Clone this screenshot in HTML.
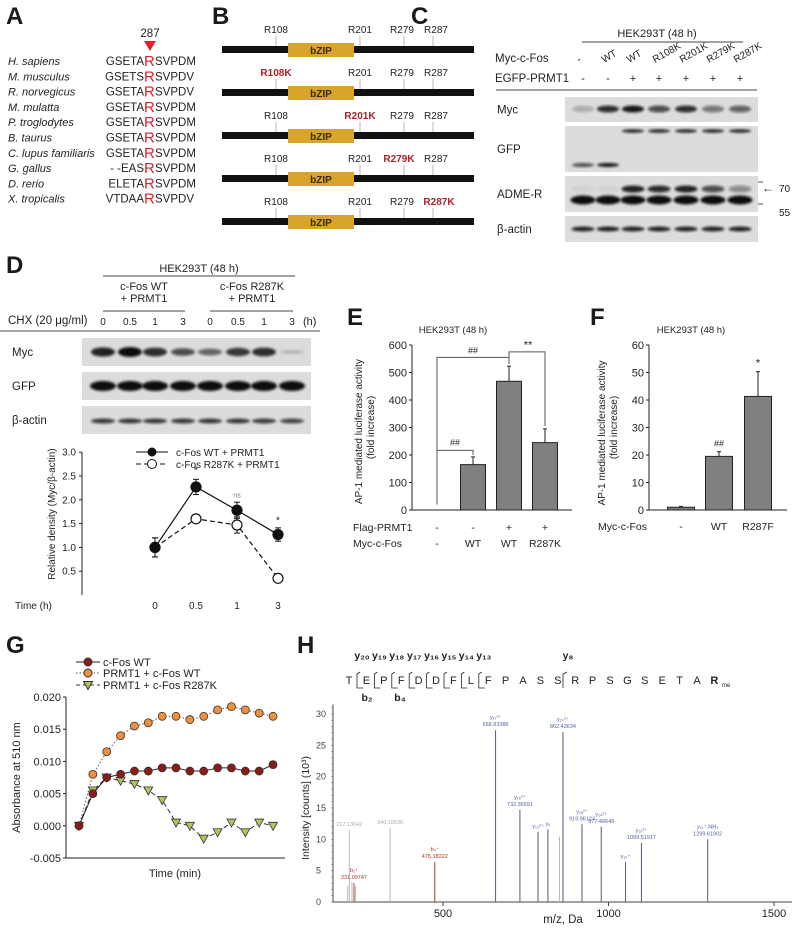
<!DOCTYPE html>
<html><head><meta charset="utf-8"><style>
body{margin:0;background:#fff}
svg{display:block;font-family:"Liberation Sans",sans-serif}
</style></head><body>
<svg id="fig" width="797" height="935" viewBox="0 0 797 935" xmlns="http://www.w3.org/2000/svg">
<defs><filter id="bl" x="-20%" y="-100%" width="140%" height="300%"><feGaussianBlur stdDeviation="1.3"/></filter></defs>
<g font-weight="bold" font-size="24" fill="#1a1a1a">
<text x="6" y="24">A</text>
<text x="212" y="24">B</text>
<text x="411" y="24">C</text>
<text x="6" y="273">D</text>
<text x="347" y="325">E</text>
<text x="590" y="325">F</text>
<text x="6" y="653">G</text>
<text x="297" y="653">H</text>
</g>
<g id="A"></g>
<g id="B"></g>
<g id="C"></g>
<g id="D"></g>
<g id="E"></g>
<g id="F"></g>
<g id="G"></g>
<g id="H"></g>
</svg>
<script>
const NS='http://www.w3.org/2000/svg';
function mk(p,tag,at,txt){const e=document.createElementNS(NS,tag);for(const k in at)e.setAttribute(k,at[k]);if(txt!==undefined)e.textContent=txt;p.appendChild(e);return e;}
function T(p,x,y,s,fs,extra){const at=Object.assign({x:x,y:y,'font-size':fs||11,fill:'#222'},extra||{});const e=mk(p,'text',at,s);return e;}

// ---------- DATA ----------
const species=['H. sapiens','M. musculus','R. norvegicus','M. mulatta','P. troglodytes','B. taurus','C. lupus familiaris','G. gallus','D. rerio','X. tropicalis'];
const seqPre=['GSETA','GSETS','GSETA','GSETA','GSETA','GSETA','GSETA','- -EAS','ELETA','VTDAA'];
const seqPost=['SVPDM','SVPDV','SVPDV','SVPDM','SVPDM','SVPDM','SVPDM','SVPDM','SVPDM','SVPDV'];
const mutRows=[null,'R108K','R201K','R279K','R287K'];
const siteNames=['R108','R201','R279','R287'];
const cLanesFos=['-','WT','WT','R108K','R201K','R279K','R287K'];
const cLanesPrmt=['-','-','+','+','+','+','+'];
const cMyc=[0.2,0.85,0.95,0.7,0.85,0.5,0.6];
const cGfpHigh=[0,0,0.9,0.9,0.9,0.9,0.9];
const cGfpLow=[0.7,0.95,0,0,0,0,0];
const cAdmeUp=[0.05,0.05,0.9,0.85,0.9,0.7,0.4];
const cAdmeLow=[1,1,1,1,1,1,1];
const cActin=[0.9,0.9,0.9,0.9,0.9,0.9,0.9];
const dTimes=['0','0.5','1','3'];
const dMyc=[0.9,1,0.85,0.7,0.6,0.8,0.85,0.2];
const dGfp=[1,1,1,1,1,1,1,1];
const dActin=[0.8,0.8,0.8,0.8,0.8,0.8,0.8,0.75];
const dWT=[1.0,2.27,1.78,1.27];
const dWTerr=[0.2,0.16,0.17,0.14];
const dMut=[1.0,1.6,1.47,0.35];
const dMuterr=[0.2,0.07,0.17,0.05];
const eCats=['-','WT','WT','R287K'];
const ePrmt=['-','-','+','+'];
const eVals=[0,165,468,245];
const eErr=[0,28,55,50];
const eTicks=[0,100,200,300,400,500,600];
const fCats=['-','WT','R287F'];
const fVals=[1,19.5,41.3];
const fErr=[0.3,1.7,9];
const fTicks=[0,10,20,30,40,50,60];
const gWT=[0,0.005,0.0075,0.008,0.0085,0.0085,0.009,0.009,0.0085,0.0085,0.009,0.009,0.0085,0.0085,0.0095];
const gPR=[0,0.008,0.0115,0.014,0.0155,0.016,0.017,0.017,0.0165,0.017,0.018,0.0185,0.018,0.0175,0.017];
const gMut=[0,0.0055,0.0075,0.007,0.0065,0.0055,0.004,0.0005,0,-0.002,-0.001,0.0005,-0.001,0.0005,0];
const gTicks=[-0.005,0,0.005,0.010,0.015,0.020];
const hMz=[212,217.13,225,231.10,236,340.16,475.18,658.83,732.37,787,817,852,862.44,919.96,977.97,1051.5,1099.52,1299.62];
const hInt=[2.5,11.5,3.2,3,2.5,11.8,6.4,27.4,14.7,11.2,11.6,10.4,27.1,12.4,12,6.4,9.4,10];
const hKind=['g','g','g','r','g','g','r','b','b','b','b','g','b','b','b','b','b','b'];
const hLab=['','217.13042','','b₂⁺ 231.09747','','340.15536','b₄⁺ 475.18222','y₁₇²⁺ 658.83386','y₁₆²⁺ 732.36591','y₁₃²⁺','y₆','','y₂₀²⁺ 862.43634','y₁₈²⁺ 919.96124','y₁₄²⁺ 977.46649','y₁₀⁺','y₁₉²⁺ 1099.51917','y₁₂⁺-NH₃ 1299.61902'];
const hTicks=[500,1000,1500];
const hYTicks=[0,5,10,15,20,25,30];
const pep=['T','E','P','F','D','D','F','L','F','P','A','S','S','R','P','S','G','S','E','T','A','R'];

// ---------- A ----------
(function(){const g=document.getElementById('A');
 T(g,150,37,'287',11.5,{'text-anchor':'middle'});
 const a=mk(g,'polygon',{points:'144,41 156,41 150,51',fill:'#e0202a'});
 species.forEach((s,i)=>{const y=65+i*15.3;
  const t=T(g,8,y,s,11,{'font-style':'italic'});
  const q=T(g,144,y,seqPre[i],11.5,{'text-anchor':'end'});
  const r=T(g,144,y+1,'R',15,{fill:'#e0202a'});
  const w=T(g,155,y,seqPost[i],11.5);
 });})();

// ---------- B ----------
(function(){const g=document.getElementById('B');const sx=[276,360,404,433];const lx=[276,360,402,436];
 mutRows.forEach((m,i)=>{const y=49+i*43;
  const bar=mk(g,'rect',{x:222,y:y-3,width:252,height:7,fill:'#111'});
  const bz=mk(g,'rect',{x:288,y:y-6,width:66,height:14,fill:'#d9a42c'});
  T(g,321,y+5,'bZIP',10,{'text-anchor':'middle','font-weight':'bold',fill:'#3a2a00'});
  siteNames.forEach((s,j)=>{mk(g,'line',{x1:sx[j],x2:sx[j],y1:y-13,y2:y-3,stroke:'#999','stroke-width':0.7});
   const mut=(m&&m.startsWith(s));let cx=lx[j];if(mut&&j==2)cx=399;if(mut&&j==3)cx=439;
   const t=T(g,cx,y-16,mut?m:s,10,{'text-anchor':'middle',fill:mut?'#b0202a':'#222','font-weight':mut?'bold':'normal'});
   });
 });})();

function band(g,cx,cy,w,h,a){if(a<=0)return;const e=mk(g,'ellipse',{cx:cx,cy:cy,rx:w/2,ry:h/2,fill:'#111','fill-opacity':a,filter:'url(#bl)'});}
function blot(g,x,y,w,h){const r=mk(g,'rect',{x:x,y:y,width:w,height:h,fill:'#dcdcdc'});}

// ---------- C ----------
(function(){const g=document.getElementById('C');const lx=[583,608,633,659,686,713,740];
 T(g,657,37,'HEK293T (48 h)',11,{'text-anchor':'middle'});mk(g,'line',{x1:582,x2:743,y1:42,y2:42,stroke:'#444'});
 T(g,495,62,'Myc-c-Fos',11.5);T(g,495,82,'EGFP-PRMT1',11.5);
 lx.forEach((x,i)=>{const t=T(g,x-4,63,cLanesFos[i],10,{transform:`rotate(-30 ${x-4} 63)`});T(g,x,82,cLanesPrmt[i],11,{'text-anchor':'middle'});});
 mk(g,'line',{x1:496,x2:757,y1:90,y2:90,stroke:'#444'});
 const rows=[['Myc',97,25],['GFP',126,46],['ADME-R',176,36],['β-actin',216,26]];
 rows.forEach(r=>{blot(g,565,r[1],193,r[2]);T(g,497,r[1]+r[2]/2+4,r[0],11.5);});
 lx.forEach((x,i)=>{band(g,x,109,22,7,cMyc[i]);band(g,x,131,22,3.5,cGfpHigh[i]);band(g,x,165,22,4,cGfpLow[i]);band(g,x,189,23,7,cAdmeUp[i]);band(g,x,200,25,9,cAdmeLow[i]);band(g,x,229,23,5,cActin[i]);});
 mk(g,'line',{x1:758,x2:763,y1:182,y2:182,stroke:'#555'});mk(g,'line',{x1:758,x2:763,y1:204,y2:204,stroke:'#555'});
 T(g,762,192,'←',12);T(g,779,192,'70',10);T(g,779,216,'55',10);
})();

// ---------- D ----------
(function(){const g=document.getElementById('D');const lx=[103,130,155,183,210,238,264,292];
 T(g,199,272,'HEK293T (48 h)',11,{'text-anchor':'middle'});mk(g,'line',{x1:103,x2:295,y1:276,y2:276,stroke:'#444'});
 T(g,144,290,'c-Fos WT',11,{'text-anchor':'middle'});T(g,144,302,'+ PRMT1',11,{'text-anchor':'middle'});
 T(g,252,290,'c-Fos R287K',11,{'text-anchor':'middle'});T(g,252,302,'+ PRMT1',11,{'text-anchor':'middle'});
 mk(g,'line',{x1:103,x2:185,y1:311,y2:311,stroke:'#444'});mk(g,'line',{x1:210,x2:293,y1:311,y2:311,stroke:'#444'});
 T(g,8,324,'CHX (20 μg/ml)',11.5);lx.forEach((x,i)=>T(g,x,325,dTimes[i%4],10,{'text-anchor':'middle'}));T(g,303,325,'(h)',11);
 mk(g,'line',{x1:0,x2:320,y1:331,y2:331,stroke:'#444'});
 [['Myc',338],['GFP',372],['β-actin',406]].forEach(r=>{blot(g,82,r[1],229,28);T(g,12,r[1]+18,r[0],11.5);});
 lx.forEach((x,i)=>{band(g,x,352,24,8*dMyc[i]+2,dMyc[i]);band(g,x,386,26,10,dGfp[i]);band(g,x,421,24,5,dActin[i]);});
 const X0=82,Y0=595,ppu=47.6,xs=[155,196,237,278];const y=v=>Y0-v*ppu;
 mk(g,'line',{x1:X0,x2:X0,y1:y(3),y2:Y0,stroke:'#222'});
 [0.5,1,1.5,2,2.5,3].forEach(v=>{mk(g,'line',{x1:X0-3,x2:X0,y1:y(v),y2:y(v),stroke:'#222'});T(g,X0-6,y(v)+3.5,v.toFixed(1),10,{'text-anchor':'end'});});
 const yl=T(g,0,0,'Relative density (Myc/β-actin)',10,{transform:`translate(55,${y(1.7)}) rotate(-90)`,'text-anchor':'middle'});
 T(g,15,609,'Time (h)',10);xs.forEach((x,i)=>T(g,x,609,dTimes[i],10,{'text-anchor':'middle'}));
 function ser(v,e,fill,dash,name){mk(g,'polyline',{points:v.map((d,i)=>xs[i]+','+y(d)).join(' '),fill:'none',stroke:'#111','stroke-width':1.2,'stroke-dasharray':dash});
  v.forEach((d,i)=>{mk(g,'line',{x1:xs[i],x2:xs[i],y1:y(d+e[i]),y2:y(d-e[i]),stroke:'#111'});mk(g,'line',{x1:xs[i]-3,x2:xs[i]+3,y1:y(d+e[i]),y2:y(d+e[i]),stroke:'#111'});mk(g,'line',{x1:xs[i]-3,x2:xs[i]+3,y1:y(d-e[i]),y2:y(d-e[i]),stroke:'#111'});
   const c=mk(g,'circle',{cx:xs[i],cy:y(d),r:5,fill:fill,stroke:'#111','stroke-width':1.2});});}
 ser(dMut,dMuterr,'#fff','5,3','point-r287k');ser(dWT,dWTerr,'#111',null,'point-wt');
 T(g,196,y(2.55),'*',10,{'text-anchor':'middle'});T(g,237,y(2.05),'ns',7,{'text-anchor':'middle',fill:'#777'});T(g,278,y(1.5),'*',10,{'text-anchor':'middle'});
 mk(g,'line',{x1:136,x2:168,y1:452,y2:452,stroke:'#111'});mk(g,'circle',{cx:152,cy:452,r:4.5,fill:'#111'});T(g,176,456,'c-Fos WT + PRMT1',10);
 mk(g,'line',{x1:136,x2:168,y1:464,y2:464,stroke:'#111','stroke-dasharray':'5,3'});mk(g,'circle',{cx:152,cy:464,r:4.5,fill:'#fff',stroke:'#111'});T(g,176,468,'c-Fos R287K + PRMT1',10);
})();

// ---------- E ----------
(function(){const g=document.getElementById('E');const X0=412,Y0=510,ppu=165/600,xs=[437,473,509,545];const y=v=>Y0-v*ppu;
 T(g,453,333,'HEK293T (48 h)',9.5,{'text-anchor':'middle'});
 eVals.forEach((v,i)=>{if(v>0){const b=mk(g,'rect',{x:xs[i]-12.5,y:y(v),width:25,height:Y0-y(v),fill:'#808080',stroke:'#222','stroke-width':1});
  mk(g,'line',{x1:xs[i],x2:xs[i],y1:y(v),y2:y(v+eErr[i]),stroke:'#222'});mk(g,'line',{x1:xs[i]-2,x2:xs[i]+2,y1:y(v+eErr[i]),y2:y(v+eErr[i]),stroke:'#222'});}});
 mk(g,'line',{x1:X0,x2:X0,y1:y(600),y2:Y0,stroke:'#222'});mk(g,'line',{x1:X0,x2:572,y1:Y0,y2:Y0,stroke:'#222'});
 eTicks.forEach(v=>{mk(g,'line',{x1:X0-3,x2:X0,y1:y(v),y2:y(v),stroke:'#222'});T(g,X0-5,y(v)+4,String(v),11,{'text-anchor':'end'});});
 T(g,0,0,'AP-1 mediated luciferase activity',10,{transform:`translate(362,${y(285)}) rotate(-90)`,'text-anchor':'middle'});
 T(g,0,0,'(fold increase)',10,{transform:`translate(374,${y(300)}) rotate(-90)`,'text-anchor':'middle'});
 mk(g,'polyline',{points:`${xs[0]},${y(20)} ${xs[0]},${y(217)} ${xs[1]},${y(217)} ${xs[1]},${y(200)}`,fill:'none',stroke:'#555'});T(g,455,y(235),'##',9,{'text-anchor':'middle'});
 mk(g,'polyline',{points:`${xs[0]},${y(217)} ${xs[0]},${y(555)} ${xs[2]},${y(555)} ${xs[2]},${y(530)}`,fill:'none',stroke:'#555'});T(g,473,y(570),'##',9,{'text-anchor':'middle'});
 mk(g,'polyline',{points:`${xs[2]},${y(555)} ${xs[2]},${y(575)} ${xs[3]},${y(575)} ${xs[3]},${y(305)}`,fill:'none',stroke:'#555'});T(g,528,y(588),'**',11,{'text-anchor':'middle'});
 T(g,353,531,'Flag-PRMT1',10.5);T(g,353,547,'Myc-c-Fos',10.5);
 xs.forEach((x,i)=>{T(g,x,531,ePrmt[i],10.5,{'text-anchor':'middle'});const t=T(g,x,547,eCats[i],10.5,{'text-anchor':'middle'});});
})();

// ---------- F ----------
(function(){const g=document.getElementById('F');const X0=649,Y0=510,ppu=165/60,xs=[681,719,758];const y=v=>Y0-v*ppu;
 T(g,691,333,'HEK293T (48 h)',9.5,{'text-anchor':'middle'});
 fVals.forEach((v,i)=>{const b=mk(g,'rect',{x:xs[i]-13.5,y:y(v),width:27,height:Y0-y(v),fill:'#808080',stroke:'#222'});
  mk(g,'line',{x1:xs[i],x2:xs[i],y1:y(v),y2:y(v+fErr[i]),stroke:'#222'});mk(g,'line',{x1:xs[i]-2,x2:xs[i]+2,y1:y(v+fErr[i]),y2:y(v+fErr[i]),stroke:'#222'});});
 mk(g,'line',{x1:X0,x2:X0,y1:y(60),y2:Y0,stroke:'#222'});mk(g,'line',{x1:X0,x2:787,y1:Y0,y2:Y0,stroke:'#222'});
 fTicks.forEach(v=>{mk(g,'line',{x1:X0-3,x2:X0,y1:y(v),y2:y(v),stroke:'#222'});T(g,X0-5,y(v)+4,String(v),11,{'text-anchor':'end'});});
 T(g,0,0,'AP-1 mediated luciferase activity',10,{transform:`translate(605,${y(28)}) rotate(-90)`,'text-anchor':'middle'});
 T(g,0,0,'(fold increase)',10,{transform:`translate(617,${y(30)}) rotate(-90)`,'text-anchor':'middle'});
 T(g,xs[1],y(fVals[1]+fErr[1])-5,'##',9,{'text-anchor':'middle'});T(g,xs[2],y(fVals[2]+fErr[2])-5,'*',11,{'text-anchor':'middle'});
 T(g,598,530,'Myc-c-Fos',10.5);xs.forEach((x,i)=>T(g,x,530,fCats[i],10.5,{'text-anchor':'middle'}));
})();

// ---------- G ----------
(function(){const g=document.getElementById('G');const X0=66,yT=697,yB=858,x0=79,dx=13.86;const y=v=>yB-(v+0.005)/0.025*(yB-yT);const x=i=>x0+i*dx;
 mk(g,'line',{x1:X0,x2:X0,y1:yT,y2:yB,stroke:'#222'});mk(g,'line',{x1:X0,x2:285,y1:yB,y2:yB,stroke:'#222'});
 gTicks.forEach(v=>{mk(g,'line',{x1:X0-3,x2:X0,y1:y(v),y2:y(v),stroke:'#222'});T(g,X0-5,y(v)+4,v.toFixed(3),11,{'text-anchor':'end'});});
 T(g,0,0,'Absorbance at 510 nm',11,{transform:`translate(20,${y(0.0075)}) rotate(-90)`,'text-anchor':'middle'});
 T(g,175,877,'Time (min)',11,{'text-anchor':'middle'});
 function line(v,dash,col){mk(g,'polyline',{points:v.map((d,i)=>x(i)+','+y(d)).join(' '),fill:'none',stroke:col,'stroke-width':1,'stroke-dasharray':dash});}
 function circ(v,fill,name){v.forEach((d,i)=>{const c=mk(g,'circle',{cx:x(i),cy:y(d),r:4,fill:fill,stroke:'#333','stroke-width':0.8});});}
 function tri(v,name){v.forEach((d,i)=>{const cx=x(i),cy=y(d);const p=mk(g,'polygon',{points:`${cx-4.5},${cy-3.5} ${cx+4.5},${cy-3.5} ${cx},${cy+4.5}`,fill:'#b3c45a',stroke:'#333','stroke-width':0.8});});}
 line(gPR,'1.5,2','#555');line(gMut,'5,3','#333');line(gWT,null,'#222');
 circ(gPR,'#f0903a','point-prmt1-wt');tri(gMut,'point-prmt1-r287k');circ(gWT,'#8b1a1a','point-wt');
 mk(g,'line',{x1:76,x2:100,y1:662,y2:662,stroke:'#222'});mk(g,'circle',{cx:88,cy:662,r:4,fill:'#8b1a1a',stroke:'#333'});T(g,103,666,'c-Fos WT',11);
 mk(g,'line',{x1:76,x2:100,y1:673,y2:673,stroke:'#555','stroke-dasharray':'1.5,2'});mk(g,'circle',{cx:88,cy:673,r:4,fill:'#f0903a',stroke:'#333'});T(g,103,677,'PRMT1 + c-Fos WT',11);
 mk(g,'line',{x1:76,x2:100,y1:685,y2:685,stroke:'#333','stroke-dasharray':'4,3'});mk(g,'polygon',{points:'83.5,681.5 92.5,681.5 88,689.5',fill:'#b3c45a',stroke:'#333'});T(g,103,689,'PRMT1 + c-Fos R287K',11);
})();

// ---------- H ----------
(function(){const g=document.getElementById('H');const X0=333,Y0=902,ppm=0.331,ppu=6.27;const x=m=>443+(m-500)*ppm;const y=v=>Y0-v*ppu;
 mk(g,'line',{x1:X0,x2:X0,y1:y(31.5),y2:Y0,stroke:'#444'});mk(g,'line',{x1:X0,x2:792,y1:Y0,y2:Y0,stroke:'#444'});
 for(let v=0;v<=31;v++)mk(g,'line',{x1:X0-2,x2:X0,y1:y(v),y2:y(v),stroke:'#666','stroke-width':0.5});
 hYTicks.forEach(v=>T(g,316,y(v)+3,String(v),9,{fill:'#444'}));
 T(g,0,0,'Intensity [counts] (10³)',10.5,{transform:`translate(309,${y(15)}) rotate(-90)`,'text-anchor':'middle'});
 hTicks.forEach(m=>{mk(g,'line',{x1:x(m),x2:x(m),y1:Y0,y2:Y0+4,stroke:'#444'});T(g,x(m),Y0+15,String(m),11,{'text-anchor':'middle'});});
 T(g,563,923,'m/z, Da',11.5,{'text-anchor':'middle'});
 const col={g:'#b8b8b8',r:'#a04030',b:'#555a7a'};const lc={g:'#aaa',r:'#b03020',b:'#5560a0'};
 hMz.forEach((m,i)=>{const l=mk(g,'line',{x1:x(m),x2:x(m),y1:y(hInt[i]),y2:Y0,stroke:col[hKind[i]],'stroke-width':1});
  if(hLab[i]){const parts=hLab[i].split(' ');parts.forEach((p,k)=>T(g,x(m),y(hInt[i])-4-(parts.length-1-k)*7,p,5.5,{'text-anchor':'middle',fill:lc[hKind[i]]}));}});
 pep.forEach((a,i)=>{const t=T(g,349+i*17.4,684,a,11,{'text-anchor':'middle','font-weight':i==21?'bold':'normal'});});
 T(g,722,687,'me',6);
 const yl=['y₂₀','y₁₉','y₁₈','y₁₇','y₁₆','y₁₅','y₁₄','y₁₃'];yl.forEach((s,i)=>{const cx=357+i*17.4;T(g,cx+5,659,s,10.5,{'text-anchor':'middle','font-weight':'bold'});mk(g,'polyline',{points:`${cx+6},688 ${cx},688 ${cx},674 ${cx+3},672`,fill:'none',stroke:'#222','stroke-width':0.8});});
 T(g,568,659,'y₈',10.5,{'text-anchor':'middle','font-weight':'bold'});mk(g,'polyline',{points:'563,688 563,674 567,672',fill:'none',stroke:'#222','stroke-width':0.8});
 T(g,367,701,'b₂',10.5,{'text-anchor':'middle','font-weight':'bold'});T(g,400,701,'b₄',10.5,{'text-anchor':'middle','font-weight':'bold'});
})();
</script>
</body></html>
